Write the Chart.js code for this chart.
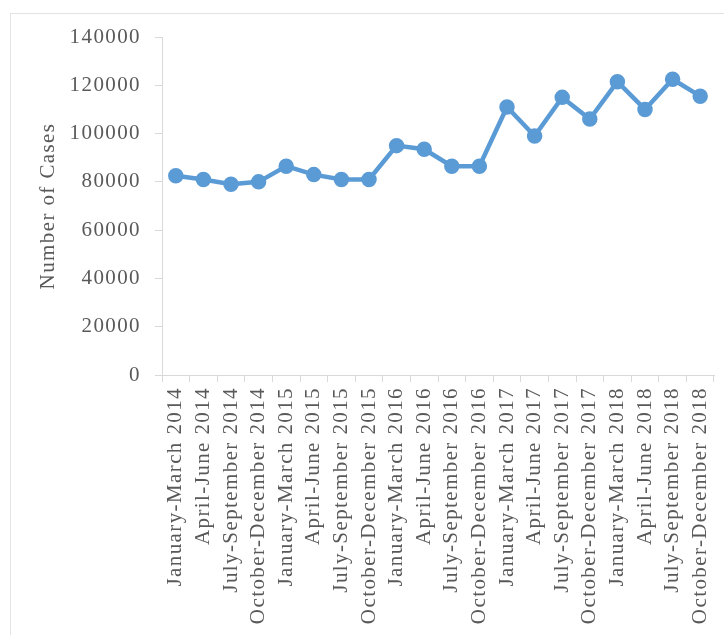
<!DOCTYPE html>
<html>
<head>
<meta charset="utf-8">
<script src="https://cdn.jsdelivr.net/npm/chart.js@4"></script>
<style>
  html, body { margin: 0; padding: 0; background: #fff; }
  #wrap { position: relative; width: 724px; height: 635px; }
  #frame { position: absolute; left: 10px; top: 13px; right: 0; bottom: 0;
           border-left: 1px solid #e3e3e3; border-top: 1px solid #e3e3e3; }
  canvas { position: absolute; left: 0; top: 0; }
</style>
</head>
<body>
<div id="wrap">
  <div id="frame"></div>
  <canvas id="chart" width="724" height="635"></canvas>
</div>
<script>
const quarters = [
  'January-March 2014', 'April-June 2014', 'July-September 2014', 'October-December 2014',
  'January-March 2015', 'April-June 2015', 'July-September 2015', 'October-December 2015',
  'January-March 2016', 'April-June 2016', 'July-September 2016', 'October-December 2016',
  'January-March 2017', 'April-June 2017', 'July-September 2017', 'October-December 2017',
  'January-March 2018', 'April-June 2018', 'July-September 2018', 'October-December 2018'
];
const cases = [
  82500, 81000, 79000, 80000,
  86500, 83000, 81000, 81000,
  95000, 93500, 86500, 86500,
  111000, 99000, 115000, 106000,
  121500, 110000, 122500, 115500
];
const yMin = 0, yMax = 140000, yStep = 20000;

const axisGray = '#d9d9d9';
const textGray = '#595959';
const serif = { family: '"Liberation Serif", "Times New Roman", serif', size: 21 };

// wider letter spacing, as in the picture
const spacing = {
  id: 'spacing',
  beforeUpdate(chart) { chart.ctx.letterSpacing = '1.4px'; },
  beforeDraw(chart) { chart.ctx.letterSpacing = '1.4px'; }
};

new Chart(document.getElementById('chart'), {
  type: 'line',
  data: {
    labels: quarters,
    datasets: [{
      data: cases,
      borderColor: '#5b9bd5',
      backgroundColor: '#5b9bd5',
      borderWidth: 4.5,
      pointRadius: 5.5,
      pointHoverRadius: 5.5,
      tension: 0
    }]
  },
  options: {
    responsive: false,
    animation: false,
    layout: { padding: { left: 0, top: 37, right: 10, bottom: 0 } },
    plugins: { legend: { display: false }, tooltip: { enabled: false } },
    scales: {
      x: {
        offset: true,
        grid: { offset: true, drawOnChartArea: false, color: axisGray, tickLength: 7 },
        border: { color: axisGray },
        ticks: { minRotation: 90, maxRotation: 90, autoSkip: false, color: textGray, font: serif, padding: 5 },
        afterFit(s) { s.height = 260; s.paddingLeft = 0; s.paddingRight = 0; }
      },
      y: {
        min: yMin,
        max: yMax,
        grid: { drawOnChartArea: false, color: axisGray, tickLength: 7 },
        border: { color: axisGray },
        ticks: { stepSize: yStep, color: textGray, font: serif, padding: 14, callback: v => String(v) },
        title: { display: true, text: 'Number of Cases', color: textGray, font: serif, padding: { top: 36 } },
        afterFit(s) { s.width = 162; }
      }
    }
  },
  plugins: [spacing]
});
</script>
</body>
</html>
